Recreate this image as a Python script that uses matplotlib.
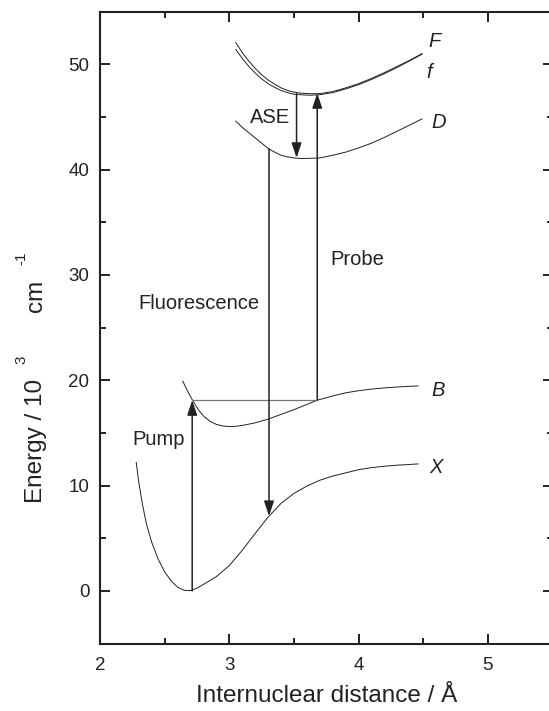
import matplotlib.pyplot as plt

plt.rcParams['font.family'] = ['Liberation Sans', 'DejaVu Sans']

# potential curves (r in Angstrom, E in 10^3 cm^-1)
x_r = [2.28, 2.30, 2.33, 2.36, 2.40, 2.45, 2.50, 2.55, 2.60, 2.65, 2.70, 2.75, 2.82,
       2.90, 3.00, 3.10, 3.20, 3.30, 3.40, 3.50, 3.60, 3.70, 3.80, 3.90, 4.00, 4.10,
       4.20, 4.30, 4.40, 4.46]
x_e = [12.2, 10.3, 8.1, 6.3, 4.6, 3.0, 1.8, 0.95, 0.35, 0.05, 0.02, 0.25, 0.75,
       1.35, 2.4, 3.85, 5.45, 7.0, 8.3, 9.25, 9.95, 10.5, 10.9, 11.2, 11.5, 11.7,
       11.83, 11.93, 12.0, 12.05]

b_r = [2.64, 2.68, 2.72, 2.76, 2.80, 2.85, 2.90, 2.95, 3.00, 3.05, 3.10, 3.20, 3.30,
       3.40, 3.50, 3.60, 3.68, 3.80, 3.90, 4.00, 4.10, 4.20, 4.30, 4.40, 4.46]
b_e = [19.9, 18.9, 18.0, 17.2, 16.6, 16.1, 15.8, 15.65, 15.6, 15.62, 15.7, 15.95, 16.3,
       16.75, 17.2, 17.7, 18.1, 18.5, 18.8, 19.0, 19.15, 19.27, 19.35, 19.42, 19.45]

d_r = [3.05, 3.10, 3.15, 3.20, 3.25, 3.30, 3.35, 3.40, 3.45, 3.50, 3.55, 3.60, 3.70,
       3.80, 3.90, 4.00, 4.10, 4.20, 4.30, 4.40, 4.49]
d_e = [44.6, 44.0, 43.5, 43.0, 42.5, 42.0, 41.65, 41.35, 41.2, 41.1, 41.05, 41.05, 41.1,
       41.35, 41.65, 42.05, 42.5, 43.05, 43.65, 44.25, 44.8]

ff_r = [3.05, 3.10, 3.15, 3.20, 3.25, 3.30, 3.35, 3.40, 3.45, 3.50, 3.55, 3.62, 3.70,
        3.80, 3.90, 4.00, 4.10, 4.20, 4.30, 4.40, 4.49]
F_e = [52.05, 51.1, 50.3, 49.6, 49.0, 48.5, 48.1, 47.75, 47.5, 47.35, 47.25, 47.2, 47.2,
       47.4, 47.75, 48.15, 48.65, 49.2, 49.8, 50.4, 51.0]
f_e = [51.4, 50.55, 49.8, 49.15, 48.6, 48.15, 47.8, 47.5, 47.3, 47.15, 47.1, 47.05, 47.1,
       47.3, 47.65, 48.05, 48.55, 49.1, 49.7, 50.35, 50.95]

# transitions: (r, E_from, E_to)
pump = (2.713, 0.0, 18.1)
probe = (3.68, 18.1, 47.25)
ase = (3.52, 47.2, 41.1)
fluor = (3.307, 41.95, 7.1)

fig = plt.figure(figsize=(5.49, 7.11), dpi=100)
ax = fig.add_axes([100 / 549, 67.5 / 711, 452.6 / 549, 632 / 711])

lc = '#222222'
for r, e in [(x_r, x_e), (b_r, b_e), (d_r, d_e), (ff_r, F_e), (ff_r, f_e)]:
    ax.plot(r, e, color=lc, lw=0.7)

ax.plot([pump[0], probe[0]], [pump[2], pump[2]], color='#777777', lw=0.9)

for r, e0, e1 in [pump, probe, ase, fluor]:
    ax.annotate('', xy=(r, e1), xytext=(r, e0),
                arrowprops=dict(arrowstyle='-|>,head_length=0.6,head_width=0.2',
                                mutation_scale=15, color=lc, lw=1.1,
                                shrinkA=0, shrinkB=0))

fs = 14.5
ax.text(2.25, 13.83, 'Pump', fontsize=fs, color=lc)
ax.text(2.296, 26.8, 'Fluorescence', fontsize=fs, color=lc)
ax.text(3.779, 30.9, 'Probe', fontsize=fs, color=lc)
ax.text(3.16, 44.4, 'ASE', fontsize=fs, color=lc)
for x, y, s in [(4.54, 51.6, 'F'), (4.525, 48.7, 'f'), (4.56, 43.95, 'D'),
                (4.56, 18.48, 'B'), (4.55, 11.14, 'X')]:
    ax.text(x, y, s, fontsize=fs, style='italic', color=lc)

ax.set_xlim(2, 5.5)
ax.set_ylim(-3, 55)
ax.set_xticks([2, 3, 4, 5])
ax.set_xticks([2.5, 3.5, 4.5], minor=True)
ax.set_yticks([0, 10, 20, 30, 40, 50])
ax.set_yticks([-5, 5, 15, 25, 35, 45, 55], minor=True)
ax.tick_params(which='both', direction='in', top=True, right=True, width=1.4,
               colors=lc, labelsize=13.5)
ax.tick_params(which='major', length=7.5)
ax.tick_params(which='minor', length=4.5)
ax.tick_params(axis='y', pad=7.7)
ax.tick_params(axis='x', pad=9.5)
for s in ax.spines.values():
    s.set_linewidth(1.5)
    s.set_color(lc)

ax.set_xlabel('Internuclear distance / Å', fontsize=17.5, color=lc, labelpad=8)

# y label built from pieces: the superscripts sit well apart from the text
yl = dict(rotation=90, color=lc, ha='center', va='center')
fig.text(36 / 549, 1 - 441 / 711, 'Energy / 10', fontsize=17.5, **yl)
fig.text(21 / 549, 1 - 360 / 711, '3', fontsize=11, **yl)
fig.text(36 / 549, 1 - 296 / 711, 'cm', fontsize=17.5, **yl)
fig.text(21 / 549, 1 - 258 / 711, '-1', fontsize=11, **yl)

fig.savefig('out.png', dpi=100)
